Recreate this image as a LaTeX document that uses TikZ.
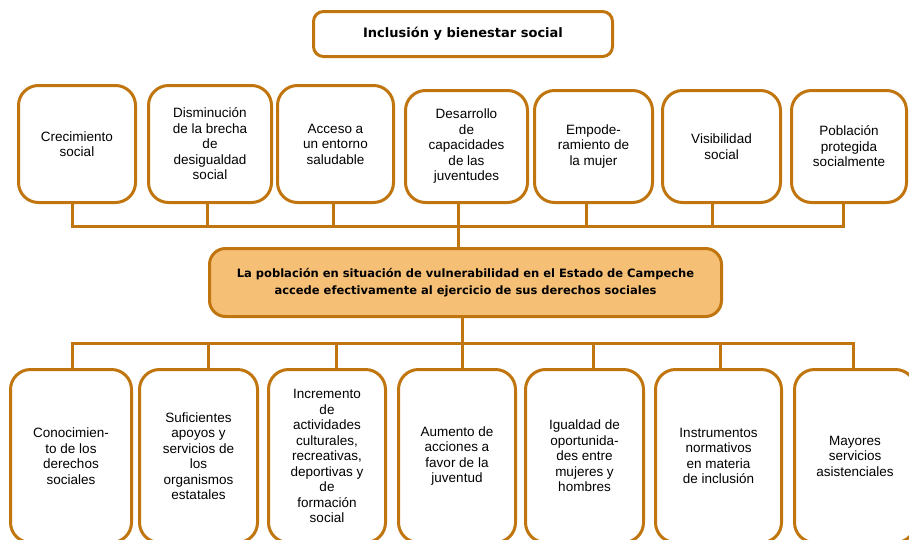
\documentclass[tikz,border=0pt]{standalone}
\usepackage{fontspec}
\setmainfont{Liberation Sans}
\newfontfamily\negrita{DejaVu Sans}
\usetikzlibrary{positioning}

\definecolor{ocre}{HTML}{C0750F}
\definecolor{naranja}{HTML}{F6BF76}

\tikzset{
  caja/.style={draw=ocre, line width=3pt, rounded corners=20pt, align=center,
    inner sep=2pt, font=\fontsize{13.5}{15.5}\selectfont},
  titulo/.style={draw=ocre, line width=3pt, rounded corners=10pt,
    font=\negrita\bfseries\fontsize{13}{15}\selectfont},
  meta/.style={draw=ocre, fill=naranja, line width=3pt, rounded corners=16pt,
    align=center, font=\negrita\bfseries\fontsize{11.5}{17}\selectfont},
  rama/.style={draw=ocre, line width=3pt}
}

\begin{document}
\begin{tikzpicture}[x=1pt, y=-1pt]
  \useasboundingbox (0,0) rectangle (909,539);
  \clip (0,0) rectangle (909,539);

  % titulo y problema central
  \node[titulo, minimum width=299pt, minimum height=45pt] (tit) at (463,34) {Inclusión y bienestar social};
  \node[meta, minimum width=512pt, minimum height=68pt] (meta) at (465.5,282.5)
    {La población en situación de vulnerabilidad en el Estado de Campeche\\
     accede efectivamente al ejercicio de sus derechos sociales};

  % efectos (fila superior)
  \node[caja, minimum width=117pt, minimum height=117pt] (e1) at (77,144) {Crecimiento\\social};
  \node[caja, minimum width=123pt, minimum height=117pt] (e2) at (210,144) {Disminución\\de la brecha\\de\\desigualdad\\social};
  \node[caja, minimum width=116pt, minimum height=117pt] (e3) at (335.5,144) {Acceso a\\un entorno\\saludable};
  \node[caja, minimum width=122pt, minimum height=112pt] (e4) at (466.5,146.5) {Desarrollo\\de\\capacidades\\de las\\juventudes};
  \node[caja, minimum width=118pt, minimum height=112pt] (e5) at (593.5,146.5) {Empode-\\ramiento de\\la mujer};
  \node[caja, minimum width=118pt, minimum height=112pt] (e6) at (721.5,146.5) {Visibilidad\\social};
  \node[caja, minimum width=115pt, minimum height=112pt] (e7) at (849,146.5) {Población\\protegida\\socialmente};

  % causas (fila inferior)
  \node[caja, minimum width=121pt, minimum height=173pt] (c1) at (71,456) {Conocimien-\\to de los\\derechos\\sociales};
  \node[caja, minimum width=118pt, minimum height=173pt] (c2) at (198.5,456) {Suficientes\\apoyos y\\servicios de\\los\\organismos\\estatales};
  \node[caja, minimum width=117pt, minimum height=173pt] (c3) at (327,456) {Incremento\\de\\actividades\\culturales,\\recreativas,\\deportivas y\\de\\formación\\social};
  \node[caja, minimum width=117pt, minimum height=173pt] (c4) at (457,456) {Aumento de\\acciones a\\favor de la\\juventud};
  \node[caja, minimum width=118pt, minimum height=173pt] (c5) at (584.5,456) {Igualdad de\\oportunida-\\des entre\\mujeres y\\hombres};
  \node[caja, minimum width=126pt, minimum height=173pt] (c6) at (718.5,456) {Instrumentos\\normativos\\en materia\\de inclusión};
  \node[caja, minimum width=121pt, minimum height=173pt] (c7) at (855,456) {Mayores\\servicios\\asistenciales};

  % barras de union
  \coordinate (busA) at (458,226);
  \coordinate (busB) at (462.5,343);
  \foreach \i/\dx in {1/-4.5,2/-2.5,3/-2.5,4/-8.5,5/-7,6/-9.5,7/-5.5}
    \draw[rama] ([xshift=\dx pt]e\i.south) -- ([xshift=\dx pt]e\i.south |- busA) coordinate (a\i);
  \foreach \i/\dx in {1/1.5,2/10,3/9,4/5.5,5/8.5,6/2,7/-2}
    \draw[rama] ([xshift=\dx pt]c\i.north) -- ([xshift=\dx pt]c\i.north |- busB) coordinate (b\i);
  \draw[rama, line cap=rect] (a1) -- (a7);
  \draw[rama, line cap=rect] (b1) -- (b7);
  \draw[rama] (busA) -- (busA |- meta.north);
  \draw[rama] (busB |- meta.south) -- (busB);
\end{tikzpicture}
\end{document}
